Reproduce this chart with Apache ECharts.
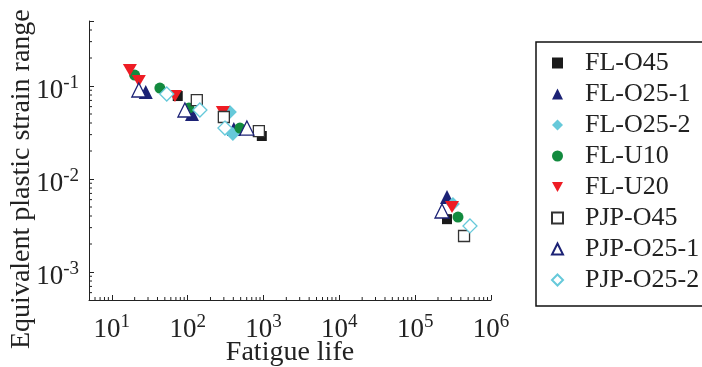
<!DOCTYPE html>
<html>
<head>
<meta charset="utf-8">
<script src="https://cdn.jsdelivr.net/npm/echarts@6/dist/echarts.min.js"></script>
<style>
html,body{margin:0;padding:0;background:#fff;}
#chart{width:702px;height:367px;}
</style>
</head>
<body>
<div id="chart"></div>
<script>
// ---- data: [fatigue life, equivalent plastic strain range] ----
var seriesNames = ['FL-O45','FL-O25-1','FL-O25-2','FL-U10','FL-U20','PJP-O45','PJP-O25-1','PJP-O25-2'];
var flO45   = [[74, 0.078], [950, 0.029], [263000, 0.0037]];
var flO25_1 = [[28, 0.086], [114, 0.050], [406, 0.0345], [263000, 0.0064]];
var flO25_2 = [[360, 0.0525], [395, 0.0305], [315000, 0.0054]];
var flU10   = [[20, 0.131], [43, 0.095], [104, 0.058], [489, 0.0353], [367000, 0.0039]];
var flU20   = [[17.3, 0.149], [22.7, 0.113], [68, 0.078], [291, 0.0525], [306000, 0.0050]];
var pjpO45  = [[132, 0.0706], [300, 0.0464], [869, 0.0328], [441000, 0.00244]];
var pjpO25_1 = [[22.7, 0.0906], [92, 0.0552], [604, 0.0353], [226000, 0.00453]];
var pjpO25_2 = [[53, 0.082], [145, 0.0552], [310, 0.0353], [528000, 0.00313]];

// axis ranges
var xMin = 5, xMax = 1e6;
var yMin = 5e-4, yMax = 0.5;

// minor tick positions (2..9 x 10^k) inside the axis ranges
var xMinorTicks = [];
for (var k = 0; k <= 5; k++) for (var m = 2; m <= 9; m++) { var v = m * Math.pow(10, k); if (v > xMin * 1.0001 && v < xMax * 0.9999) xMinorTicks.push(v); }
var yMinorTicks = [];
for (var k2 = -4; k2 <= -1; k2++) for (var m2 = 2; m2 <= 9; m2++) { var w = m2 * Math.pow(10, k2); if (w > yMin * 1.0001 && w < yMax * 0.9999) yMinorTicks.push(w); }

var FONT = 'Liberation Serif';
var NAVY = '#1c2275', CYAN = '#66c9da', GREEN = '#128a3e', RED = '#ee1c24', BLACK = '#1a1a1a';
var DOWN_TRI = 'path://M0,0 L10,0 L5,9 Z';

function powLabel(v) {
  var e = Math.log10(v), r = Math.round(e);
  if (Math.abs(e - r) > 1e-6) return '';
  return '{b|10}{s|' + r + '}';
}
var labelRich = {
  b: {fontFamily: FONT, fontSize: 27, lineHeight: 34, color: '#222'},
  s: {fontFamily: FONT, fontSize: 19, lineHeight: 19, verticalAlign: 'top', color: '#222'}
};

function sc(name, data, symbol, size, fill, border) {
  var o = {
    name: name, type: 'scatter', data: data, symbol: symbol, symbolSize: size,
    itemStyle: {color: fill, opacity: 1}
  };
  if (border) { o.itemStyle.borderColor = border; o.itemStyle.borderWidth = 1.3; }
  return o;
}

function minorTickSeries(axis) {
  var data = axis === 'x'
    ? xMinorTicks.map(function (v) { return [v, yMin]; })
    : yMinorTicks.map(function (v) { return [xMin, v]; });
  return {
    type: 'custom', silent: true, z: 5, clip: false,
    data: data,
    renderItem: function (params, api) {
      var p = api.coord([api.value(0), api.value(1)]);
      var shape = axis === 'x'
        ? {x1: p[0], y1: p[1], x2: p[0], y2: p[1] - 3}
        : {x1: p[0], y1: p[1], x2: p[0] + 3, y2: p[1]};
      return {type: 'line', shape: shape, style: {stroke: '#222', lineWidth: 1}};
    }
  };
}

var chart = echarts.init(document.getElementById('chart'), null, {renderer: 'canvas'});
chart.setOption({
  animation: false,
  backgroundColor: '#fff',
  grid: {left: 89, right: 211, top: 21, bottom: 67, containLabel: false, outerBoundsMode: 'none'},
  xAxis: {
    type: 'log', logBase: 10, min: xMin, max: xMax,
    axisLine: {onZero: false, lineStyle: {color: '#222', width: 1}},
    axisTick: {inside: true, length: 5, lineStyle: {color: '#222'}},
    splitLine: {show: false},
    axisLabel: {margin: 13, formatter: powLabel, rich: labelRich},
    name: 'Fatigue life', nameLocation: 'middle', nameGap: 39, nameMoveOverlap: false,
    nameTextStyle: {fontFamily: FONT, fontSize: 28, color: '#222'}
  },
  yAxis: {
    type: 'log', logBase: 10, min: yMin, max: yMax,
    axisLine: {onZero: false, lineStyle: {color: '#222', width: 1}},
    axisTick: {inside: true, length: 5, lineStyle: {color: '#222'}},
    splitLine: {show: false},
    axisLabel: {margin: 10, formatter: powLabel, rich: labelRich, padding: [10, 0, 0, 0]}
  },
  graphic: [{
    type: 'text', rotation: Math.PI / 2,
    style: {text: 'Equivalent plastic strain range', font: '28px "Liberation Serif"', fill: '#222'},
    x: 8, y: 349
  }],
  legend: {
    orient: 'vertical', left: 536, top: 42,
    data: seriesNames,
    itemWidth: 11, itemHeight: 11, itemGap: 5,
    padding: [8, 10, 13, 15],
    borderColor: '#111', borderWidth: 1.5,
    textStyle: {fontFamily: FONT, fontSize: 26, lineHeight: 24, color: '#222', padding: [0, 0, 0, 17]}
  },
  series: [
    sc('FL-O45', flO45, 'rect', 10, BLACK),
    sc('FL-O25-1', flO25_1, 'triangle', 14, NAVY),
    sc('FL-O25-2', flO25_2, 'diamond', 14, CYAN),
    sc('FL-U10', flU10, 'circle', 11, GREEN),
    sc('FL-U20', flU20, DOWN_TRI, [14, 12], RED),
    sc('PJP-O45', pjpO45, 'rect', 11, '#fff', '#333'),
    sc('PJP-O25-1', pjpO25_1, 'triangle', 14, '#fff', NAVY),
    sc('PJP-O25-2', pjpO25_2, 'diamond', 14, '#fff', CYAN),
    minorTickSeries('x'),
    minorTickSeries('y')
  ]
});
</script>
</body>
</html>
